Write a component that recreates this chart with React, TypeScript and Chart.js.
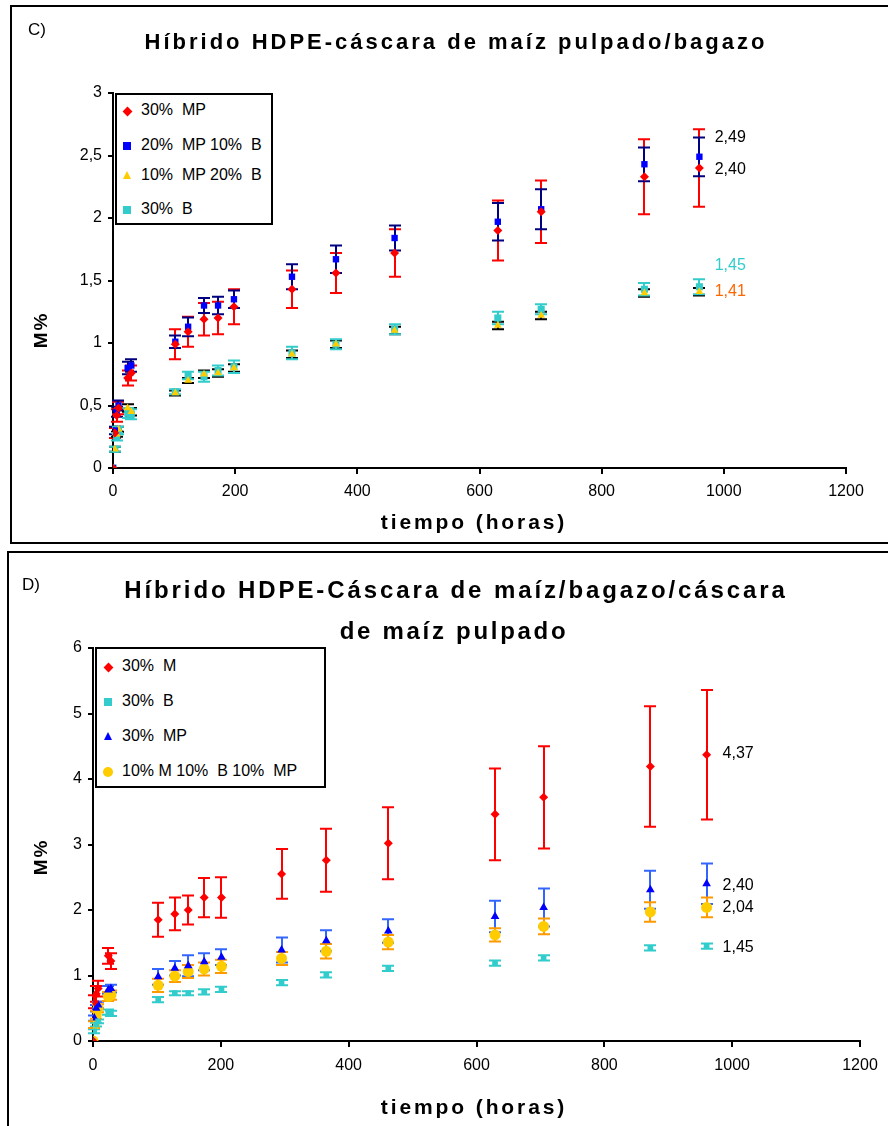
import React, { useEffect, useRef } from "react";
import { Chart, registerables } from "chart.js";
Chart.register(...registerables);

// ---------- Panel C data ----------
const timesC = [0, 3, 6, 9, 24, 30, 102, 123, 149, 172, 198, 293, 365, 461, 630, 701, 870, 960];
const mp30C = [0, 0.28, 0.42, 0.48, 0.72, 0.76, 0.99, 1.09, 1.19, 1.2, 1.29, 1.43, 1.56, 1.72, 1.9, 2.05, 2.33, 2.4];
const mp30CErr = [0, 0.04, 0.05, 0.05, 0.06, 0.06, 0.12, 0.12, 0.13, 0.13, 0.14, 0.15, 0.16, 0.19, 0.24, 0.25, 0.3, 0.31];
const mp20b10C = [0, 0.3, 0.45, 0.5, 0.8, 0.82, 1.01, 1.13, 1.3, 1.3, 1.35, 1.53, 1.67, 1.84, 1.97, 2.07, 2.43, 2.49];
const mp20b10CErr = [0, 0.03, 0.04, 0.04, 0.05, 0.05, 0.05, 0.075, 0.06, 0.07, 0.07, 0.1, 0.11, 0.1, 0.15, 0.16, 0.135, 0.155];
const mp10b20C = [0, 0.15, 0.27, 0.31, 0.48, 0.45, 0.6, 0.7, 0.75, 0.76, 0.8, 0.91, 0.99, 1.1, 1.14, 1.22, 1.4, 1.41];
const mp10b20CErr = [0, 0.02, 0.02, 0.02, 0.03, 0.03, 0.02, 0.02, 0.03, 0.03, 0.03, 0.03, 0.03, 0.03, 0.03, 0.03, 0.03, 0.03];
const b30C = [0, 0.15, 0.25, 0.3, 0.44, 0.43, 0.61, 0.74, 0.73, 0.78, 0.81, 0.92, 0.99, 1.11, 1.2, 1.27, 1.43, 1.45];
const b30CErr = [0, 0.02, 0.03, 0.03, 0.04, 0.04, 0.02, 0.03, 0.04, 0.04, 0.05, 0.05, 0.04, 0.04, 0.05, 0.04, 0.05, 0.06];
const legendC = ["30%  MP", "20%  MP 10%  B", "10%  MP 20%  B", "30%  B"];
const endLabelsC = ["2,49", "2,40", "1,45", "1,41"];
const endLabelPosC = [2.64, 2.39, 1.62, 1.41];
const endLabelColorsC = ["#000000", "#000000", "#33CCCC", "#FF6600"];

// ---------- Panel D data ----------
const timesD = [0, 2, 5, 8, 24, 28, 102, 128, 149, 174, 201, 295, 365, 462, 629, 705, 872, 960];
const m30D = [0, 0.6, 0.72, 0.8, 1.3, 1.22, 1.85, 1.94, 2.0, 2.19, 2.19, 2.55, 2.76, 3.02, 3.46, 3.72, 4.19, 4.37];
const m30DErr = [0, 0.1, 0.12, 0.12, 0.12, 0.12, 0.26, 0.25, 0.22, 0.3, 0.31, 0.38, 0.48, 0.55, 0.7, 0.78, 0.92, 0.99];
const b30D = [0, 0.15, 0.25, 0.3, 0.44, 0.42, 0.63, 0.73, 0.73, 0.75, 0.79, 0.89, 1.01, 1.11, 1.19, 1.27, 1.42, 1.45];
const b30DErr = [0, 0.03, 0.03, 0.03, 0.04, 0.04, 0.04, 0.03, 0.03, 0.04, 0.04, 0.04, 0.04, 0.04, 0.04, 0.04, 0.04, 0.04];
const mp30D = [0, 0.35, 0.5, 0.55, 0.78, 0.8, 0.98, 1.11, 1.15, 1.21, 1.28, 1.39, 1.53, 1.68, 1.9, 2.04, 2.31, 2.4];
const mp30DErr = [0, 0.04, 0.05, 0.05, 0.06, 0.06, 0.12, 0.11, 0.16, 0.13, 0.12, 0.19, 0.16, 0.18, 0.24, 0.29, 0.29, 0.31];
const mixD = [0, 0.25, 0.4, 0.5, 0.68, 0.7, 0.85, 0.99, 1.06, 1.1, 1.14, 1.26, 1.37, 1.51, 1.62, 1.75, 1.97, 2.04];
const mixDErr = [0, 0.05, 0.06, 0.06, 0.07, 0.07, 0.1, 0.09, 0.1, 0.1, 0.1, 0.1, 0.11, 0.11, 0.1, 0.12, 0.15, 0.15];
const legendD = ["30%  M", "30%  B", "30%  MP", "10% M 10%  B 10%  MP"];
const endLabelsD = ["4,37", "2,40", "2,04", "1,45"];
const endLabelPosD = [4.39, 2.37, 2.03, 1.43];
const endLabelColorsD = ["#000000", "#000000", "#000000", "#000000"];

const X_MIN = 0, X_MAX = 1200, X_STEP = 200;
const LABEL_X = 985;

const FONT = "'Liberation Sans', Arial, sans-serif";

const toPts = (xs: number[], ys: number[]) => xs.map((x, i) => ({ x, y: ys[i] }));

const errorBarPlugin = {
  id: "errorBars",
  beforeDatasetsDraw(chart: any) {
    const ctx = chart.ctx;
    const ys = chart.scales.y;
    chart.data.datasets.forEach((ds: any, i: number) => {
      const errs = ds.errors;
      if (!errs) return;
      const meta = chart.getDatasetMeta(i);
      ctx.save();
      ctx.strokeStyle = ds.errColor;
      ctx.lineWidth = 2;
      meta.data.forEach((pt: any, j: number) => {
        const e = errs[j];
        if (!e) return;
        const v = ds.data[j].y;
        const x = Math.round(pt.x);
        const y1 = ys.getPixelForValue(v + e);
        const y2 = ys.getPixelForValue(v - e);
        ctx.beginPath();
        ctx.moveTo(x, y1); ctx.lineTo(x, y2);
        ctx.moveTo(x - 6, y1); ctx.lineTo(x + 6, y1);
        ctx.moveTo(x - 6, y2); ctx.lineTo(x + 6, y2);
        ctx.stroke();
      });
      ctx.restore();
    });
  },
};

function makeLabelPlugin(texts: string[], pos: number[], colors: string[]) {
  return {
    id: "endLabels",
    afterDatasetsDraw(chart: any) {
      const ctx = chart.ctx;
      const xs = chart.scales.x, ys = chart.scales.y;
      ctx.save();
      ctx.font = `16px ${FONT}`;
      ctx.textAlign = "left";
      ctx.textBaseline = "middle";
      texts.forEach((t, i) => {
        ctx.fillStyle = colors[i];
        ctx.fillText(t, xs.getPixelForValue(LABEL_X), ys.getPixelForValue(pos[i]));
      });
      ctx.restore();
    },
  };
}

type PanelProps = {
  top: number;
  width: number;
  height: number;
  area: { left: number; right: number; top: number; bottom: number };
  yMax: number;
  yStep: number;
  datasets: any[];
  labelPlugin: any;
  xTickGap: number;
};

function ChartCanvas(p: PanelProps) {
  const ref = useRef<HTMLCanvasElement | null>(null);
  useEffect(() => {
    if (!ref.current) return;
    const chart = new Chart(ref.current, {
      type: "scatter",
      data: { datasets: p.datasets },
      plugins: [errorBarPlugin, p.labelPlugin],
      options: {
        responsive: false,
        animation: false,
        devicePixelRatio: 1,
        layout: {
          padding: { left: 0, right: p.width - p.area.right, top: p.area.top, bottom: 0 },
        },
        plugins: { legend: { display: false }, title: { display: false }, tooltip: { enabled: false } },
        scales: {
          x: {
            type: "linear",
            min: X_MIN,
            max: X_MAX,
            afterFit: (s: any) => { s.height = p.height - p.area.bottom; },
            ticks: {
              stepSize: X_STEP,
              autoSkip: false,
              maxRotation: 0,
              padding: p.xTickGap,
              color: "#000",
              font: { family: FONT, size: 16 },
              callback: (v: any) => String(v),
            },
            grid: { drawOnChartArea: false, drawTicks: true, tickLength: 6, color: "#000", lineWidth: 2 },
            border: { display: true, color: "#000", width: 2 },
          },
          y: {
            type: "linear",
            min: 0,
            max: p.yMax,
            afterFit: (s: any) => { s.width = p.area.left; },
            ticks: {
              stepSize: p.yStep,
              padding: 6,
              color: "#000",
              font: { family: FONT, size: 16 },
              callback: (v: any) => String(v).replace(".", ","),
            },
            grid: { drawOnChartArea: false, drawTicks: true, tickLength: 5, color: "#000", lineWidth: 2 },
            border: { display: true, color: "#000", width: 2 },
          },
        },
      },
    });
    return () => chart.destroy();
  }, []);
  return (
    <canvas
      ref={ref}
      width={p.width}
      height={p.height}
      style={{ position: "absolute", left: 0, top: p.top, width: p.width, height: p.height }}
    />
  );
}

function Marker({ kind, color }: { kind: string; color: string }) {
  const base: any = { position: "absolute", left: -4, top: -4 };
  if (kind === "diamond")
    return <div style={{ ...base, width: 7, height: 7, left: -3.5, top: -3.5, background: color, transform: "rotate(45deg)" }} />;
  if (kind === "square") return <div style={{ ...base, width: 8, height: 8, background: color }} />;
  if (kind === "circle") return <div style={{ ...base, width: 10, height: 10, left: -5, top: -5, borderRadius: "50%", background: color }} />;
  return (
    <div
      style={{
        position: "absolute", left: -4, top: -5, width: 0, height: 0,
        borderLeft: "4px solid transparent", borderRight: "4px solid transparent", borderBottom: `8px solid ${color}`,
      }}
    />
  );
}

function Legend({ left, top, width, height, rows, markerX, textX, items }: any) {
  return (
    <div style={{ position: "absolute", left, top, width, height, border: "2px solid #000", background: "#fff", boxSizing: "border-box" }}>
      {items.map((it: any, i: number) => (
        <React.Fragment key={i}>
          <div style={{ position: "absolute", left: markerX, top: rows[i] }}>
            <Marker kind={it.kind} color={it.color} />
          </div>
          <div
            style={{
              position: "absolute", left: textX, top: rows[i] - 10, height: 20, lineHeight: "20px",
              font: `16px ${FONT}`, whiteSpace: "pre", color: "#000",
            }}
          >
            {it.text}
          </div>
        </React.Fragment>
      ))}
    </div>
  );
}

function CText({ x, y, size, spacing, children, bold = true, rotate = 0 }: any) {
  return (
    <div
      style={{
        position: "absolute", left: x, top: y, transform: `translate(-50%, -50%) rotate(${rotate}deg)`,
        font: `${bold ? "bold " : ""}${size}px ${FONT}`, letterSpacing: spacing, whiteSpace: "nowrap", color: "#000",
      }}
    >
      {children}
    </div>
  );
}

export default function App() {
  const dsC = [
    { label: legendC[0], data: toPts(timesC, mp30C), errors: mp30CErr, errColor: "#FF0000", pointStyle: "rectRot", pointRadius: 4.5, backgroundColor: "#FF0000", borderColor: "#FF0000", borderWidth: 0 },
    { label: legendC[1], data: toPts(timesC, mp20b10C), errors: mp20b10CErr, errColor: "#000080", pointStyle: "rect", pointRadius: 4.5, backgroundColor: "#0000FF", borderColor: "#0000FF", borderWidth: 0 },
    { label: legendC[2], data: toPts(timesC, mp10b20C), errors: mp10b20CErr, errColor: "#000000", pointStyle: "triangle", pointRadius: 4.5, backgroundColor: "#FFCC00", borderColor: "#FFCC00", borderWidth: 0 },
    { label: legendC[3], data: toPts(timesC, b30C), errors: b30CErr, errColor: "#33CCCC", pointStyle: "rect", pointRadius: 5, backgroundColor: "#33CCCC", borderColor: "#33CCCC", borderWidth: 0 },
  ];
  const dsD = [
    { label: legendD[0], data: toPts(timesD, m30D), errors: m30DErr, errColor: "#FF0000", pointStyle: "rectRot", pointRadius: 4.5, backgroundColor: "#FF0000", borderColor: "#FF0000", borderWidth: 0 },
    { label: legendD[1], data: toPts(timesD, b30D), errors: b30DErr, errColor: "#33CCCC", pointStyle: "rect", pointRadius: 4, backgroundColor: "#33CCCC", borderColor: "#33CCCC", borderWidth: 0 },
    { label: legendD[2], data: toPts(timesD, mp30D), errors: mp30DErr, errColor: "#3366FF", pointStyle: "triangle", pointRadius: 5, backgroundColor: "#0000FF", borderColor: "#0000FF", borderWidth: 0 },
    { label: legendD[3], data: toPts(timesD, mixD), errors: mixDErr, errColor: "#FF9900", pointStyle: "circle", pointRadius: 5.5, backgroundColor: "#FFCC00", borderColor: "#FFCC00", borderWidth: 0 },
  ];

  return (
    <div style={{ position: "absolute", left: 0, top: 0, width: 888, height: 1126, overflow: "hidden", background: "#fff" }}>
      {/* panel borders */}
      <div style={{ position: "absolute", left: 10, top: 5, width: 890, height: 539, border: "2px solid #000", boxSizing: "border-box" }} />
      <div style={{ position: "absolute", left: 7, top: 551, width: 893, height: 600, border: "2px solid #000", boxSizing: "border-box" }} />

      <ChartCanvas
        top={0} width={888} height={545}
        area={{ left: 113, right: 846, top: 93, bottom: 468 }}
        yMax={3} yStep={0.5} datasets={dsC} xTickGap={8}
        labelPlugin={makeLabelPlugin(endLabelsC, endLabelPosC, endLabelColorsC)}
      />
      <ChartCanvas
        top={551} width={888} height={575}
        area={{ left: 93, right: 860, top: 97, bottom: 490 }}
        yMax={6} yStep={1} datasets={dsD} xTickGap={9}
        labelPlugin={makeLabelPlugin(endLabelsD, endLabelPosD, endLabelColorsD)}
      />

      {/* Panel C texts */}
      <div style={{ position: "absolute", left: 28, top: 20, font: `17px ${FONT}` }}>C)</div>
      <CText x={456} y={42} size={22} spacing="3px">Híbrido HDPE-cáscara de maíz pulpado/bagazo</CText>
      <CText x={41} y={330} size={19} spacing="2px" rotate={-90}>M%</CText>
      <CText x={474} y={522} size={21} spacing="2.9px">tiempo (horas)</CText>
      <Legend
        left={115} top={93} width={158} height={132} markerX={10} textX={24} rows={[16, 51, 81, 115]}
        items={[
          { kind: "diamond", color: "#FF0000", text: legendC[0] },
          { kind: "square", color: "#0000FF", text: legendC[1] },
          { kind: "triangle", color: "#FFCC00", text: legendC[2] },
          { kind: "square", color: "#33CCCC", text: legendC[3] },
        ]}
      />

      {/* Panel D texts */}
      <div style={{ position: "absolute", left: 22, top: 575, font: `17px ${FONT}` }}>D)</div>
      <CText x={456} y={590} size={24} spacing="2.9px">Híbrido HDPE-Cáscara de maíz/bagazo/cáscara</CText>
      <CText x={454} y={631} size={24} spacing="2.7px">de maíz pulpado</CText>
      <CText x={41} y={857} size={19} spacing="2px" rotate={-90}>M%</CText>
      <CText x={474} y={1107} size={21} spacing="2.9px">tiempo (horas)</CText>
      <Legend
        left={95} top={647} width={231} height={141} markerX={11} textX={25} rows={[18, 53, 88, 123]}
        items={[
          { kind: "diamond", color: "#FF0000", text: legendD[0] },
          { kind: "square", color: "#33CCCC", text: legendD[1] },
          { kind: "triangle", color: "#0000FF", text: legendD[2] },
          { kind: "circle", color: "#FFCC00", text: legendD[3] },
        ]}
      />
    </div>
  );
}
